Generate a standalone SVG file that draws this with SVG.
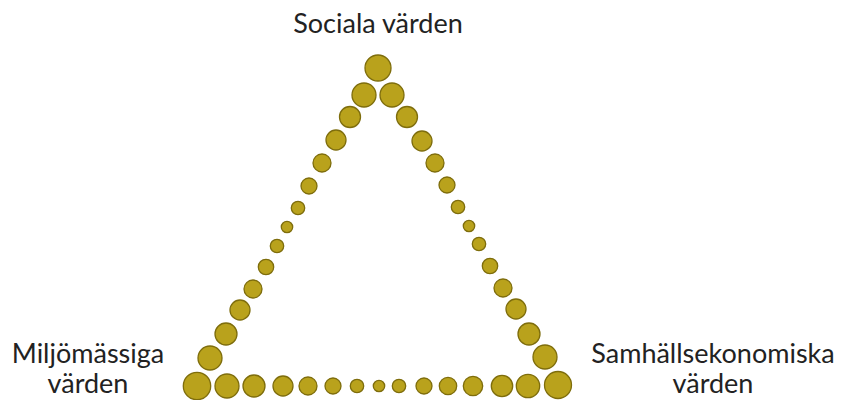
<svg xmlns="http://www.w3.org/2000/svg" width="846" height="400" viewBox="0 0 846 400">
<style>
.dot{fill:#b9a21c;stroke:#7e6d0c;stroke-width:1.3}
.lbl{font-family:Lato,"Open Sans","DejaVu Sans",sans-serif;font-size:27px;fill:#222;text-anchor:middle}
</style>
<rect width="846" height="400" fill="#fff"/>
<g id="connectors">
<g id="edge-left">
<circle class="dot" cx="364" cy="95" r="12"/>
<circle class="dot" cx="350" cy="117" r="10.5"/>
<circle class="dot" cx="336" cy="140" r="10"/>
<circle class="dot" cx="322" cy="163" r="9"/>
<circle class="dot" cx="309" cy="186" r="8"/>
<circle class="dot" cx="298" cy="208" r="6.7"/>
<circle class="dot" cx="287" cy="227" r="5.7"/>
<circle class="dot" cx="277" cy="246" r="6.7"/>
<circle class="dot" cx="266" cy="267" r="7.7"/>
<circle class="dot" cx="253" cy="289" r="9"/>
<circle class="dot" cx="240" cy="310" r="10"/>
<circle class="dot" cx="226" cy="334" r="11"/>
<circle class="dot" cx="210" cy="358" r="12"/>
</g>
<g id="edge-right">
<circle class="dot" cx="392" cy="95" r="12"/>
<circle class="dot" cx="407" cy="117" r="10.5"/>
<circle class="dot" cx="422" cy="141" r="10"/>
<circle class="dot" cx="435" cy="163" r="9"/>
<circle class="dot" cx="447" cy="185" r="8"/>
<circle class="dot" cx="458" cy="207" r="6.7"/>
<circle class="dot" cx="469" cy="226" r="5.7"/>
<circle class="dot" cx="479" cy="244" r="6.7"/>
<circle class="dot" cx="490" cy="266" r="7.7"/>
<circle class="dot" cx="503" cy="288" r="9"/>
<circle class="dot" cx="516" cy="309" r="10"/>
<circle class="dot" cx="529" cy="334" r="11"/>
<circle class="dot" cx="545" cy="357" r="12"/>
</g>
<g id="edge-bottom">
<circle class="dot" cx="227" cy="386" r="12"/>
<circle class="dot" cx="254" cy="386" r="11"/>
<circle class="dot" cx="283" cy="386" r="10"/>
<circle class="dot" cx="308" cy="386" r="9"/>
<circle class="dot" cx="333" cy="386" r="8"/>
<circle class="dot" cx="357" cy="386" r="6.7"/>
<circle class="dot" cx="379" cy="386" r="5.7"/>
<circle class="dot" cx="399" cy="386" r="6.7"/>
<circle class="dot" cx="424" cy="386" r="8"/>
<circle class="dot" cx="448" cy="386" r="8.7"/>
<circle class="dot" cx="473" cy="386" r="9.7"/>
<circle class="dot" cx="502" cy="386" r="10.7"/>
<circle class="dot" cx="528" cy="386" r="11.7"/>
</g>
</g>
<g id="node-sociala">
<circle class="dot" cx="378" cy="68" r="13"/>
<text class="lbl" x="378" y="33">Sociala värden</text>
</g>
<g id="node-miljo">
<circle class="dot" cx="197" cy="386" r="13.7"/>
<text class="lbl" x="88" y="363">Miljömässiga</text>
<text class="lbl" x="88" y="393">värden</text>
</g>
<g id="node-samhall">
<circle class="dot" cx="558" cy="385" r="13.5"/>
<text class="lbl" x="713" y="363">Samhällsekonomiska</text>
<text class="lbl" x="713" y="393">värden</text>
</g>
</svg>
